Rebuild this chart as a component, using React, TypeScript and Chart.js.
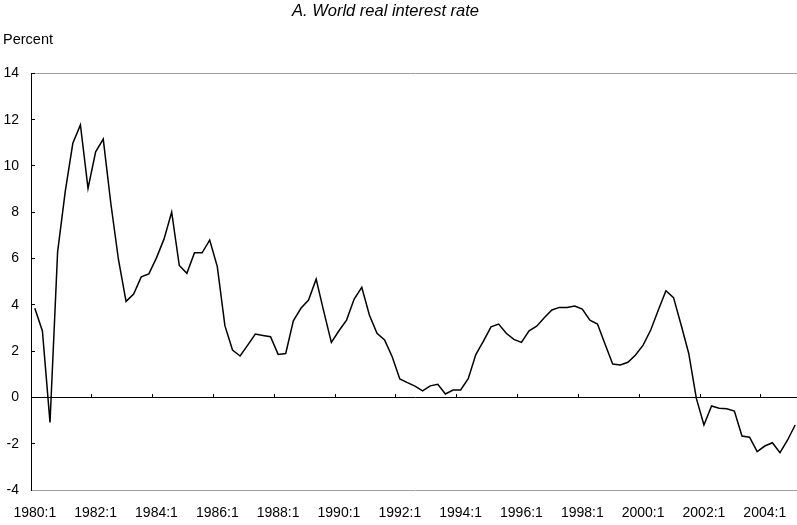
import React, { useEffect, useRef } from 'react';
import { Chart, registerables } from 'chart.js';

Chart.register(...registerables);

// ---- data ----
const TITLE = 'A. World real interest rate';
const Y_UNIT = 'Percent';

const START_YEAR = 1980;
const QUARTER_COUNT = 101; // 1980:1 .. 2005:1
const quarters: string[] = [];
for (let i = 0; i < QUARTER_COUNT; i++) {
  quarters.push(`${START_YEAR + Math.floor(i / 4)}:${(i % 4) + 1}`);
}
const LABEL_EVERY = 8; // show every 2 years

const realRate: number[] = [
  3.85, 2.87, -1.08, 6.29, 8.89, 10.98, 11.77, 9.03, 10.61, 11.16,
  8.38, 5.96, 4.15, 4.47, 5.21, 5.34, 6.03, 6.85, 8.01, 5.7,
  5.36, 6.25, 6.25, 6.8, 5.65, 3.1, 2.05, 1.79, 2.26, 2.74,
  2.68, 2.62, 1.86, 1.9, 3.31, 3.85, 4.21, 5.11, 3.72, 2.38,
  2.88, 3.34, 4.25, 4.76, 3.56, 2.77, 2.48, 1.76, 0.8, 0.64,
  0.49, 0.28, 0.5, 0.57, 0.15, 0.32, 0.32, 0.81, 1.85, 2.43,
  3.05, 3.17, 2.77, 2.51, 2.38, 2.88, 3.08, 3.44, 3.78, 3.89,
  3.89, 3.95, 3.82, 3.34, 3.17, 2.3, 1.44, 1.4, 1.52, 1.83,
  2.26, 2.91, 3.78, 4.61, 4.31, 3.13, 1.9, -0.04, -1.19, -0.37,
  -0.47, -0.49, -0.59, -1.67, -1.72, -2.34, -2.1, -1.96, -2.39, -1.84,
  -1.19,
];

const Y_MIN = -4;
const Y_MAX = 14;
const Y_STEP = 2;

const FONT = "'Liberation Sans', Arial, Helvetica, sans-serif";

// Title drawn centred over the original's position
const titlePlugin = {
  id: 'centredTitle',
  afterDraw(chart: any) {
    const ctx = chart.ctx;
    ctx.save();
    ctx.font = `italic 16.5px ${FONT}`;
    ctx.fillStyle = '#000';
    ctx.textAlign = 'center';
    ctx.textBaseline = 'middle';
    ctx.fillText(TITLE, 385.5, 11.5);
    ctx.restore();
  },
};

export default function App() {
  const ref = useRef<HTMLCanvasElement | null>(null);

  useEffect(() => {
    if (!ref.current) return;
    const chart = new Chart(ref.current, {
      type: 'line',
      data: {
        labels: quarters,
        datasets: [
          {
            data: realRate,
            borderColor: '#000',
            borderWidth: 1.5,
            pointRadius: 0,
            tension: 0,
            fill: false,
          },
        ],
      },
      plugins: [titlePlugin],
      options: {
        animation: false,
        responsive: false,
        layout: { padding: { left: 3, right: 0, top: 0, bottom: 3 } },
        plugins: {
          legend: { display: false },
          tooltip: { enabled: false },
          title: { display: false },
          subtitle: {
            display: true,
            text: Y_UNIT,
            align: 'start',
            color: '#000',
            font: { family: FONT, size: 14.5, weight: 'normal' },
            padding: { top: 31, bottom: 25 },
          },
        },
        scales: {
          x: {
            type: 'category',
            position: 'bottom',
            offset: true,
            grid: { display: false, drawTicks: false },
            border: { display: true, color: '#a0a0a0', width: 1 },
            ticks: {
              autoSkip: false,
              maxRotation: 0,
              minRotation: 0,
              padding: 15,
              color: '#000',
              font: { family: FONT, size: 14 },
              callback: (_v: any, i: number) => (i % LABEL_EVERY === 0 ? quarters[i] : ''),
            },
            afterFit: (scale: any) => {
              scale.height = 32;
              scale.paddingLeft = 0;
              scale.paddingRight = 0;
            },
          },
          x2: {
            type: 'category',
            axis: 'x',
            position: { y: 0 },
            offset: true,
            grid: {
              display: true,
              offset: true,
              drawOnChartArea: false,
              drawTicks: true,
              tickLength: -4,
              color: 'transparent',
              tickColor: (ctx: any) => (ctx.index % LABEL_EVERY === 0 ? '#000' : 'transparent'),
              tickWidth: 1,
            },
            border: { display: true, color: '#000', width: 1 },
            ticks: { display: false, autoSkip: false, maxRotation: 0, minRotation: 0 },
            afterFit: (scale: any) => {
              scale.paddingLeft = 0;
              scale.paddingRight = 0;
            },
          },
          y: {
            type: 'linear',
            min: Y_MIN,
            max: Y_MAX,
            ticks: {
              stepSize: Y_STEP,
              padding: 16,
              color: '#000',
              font: { family: FONT, size: 14 },
            },
            grid: {
              display: true,
              drawTicks: true,
              tickLength: -4,
              tickColor: '#000',
              tickWidth: 1,
              color: (ctx: any) => (ctx.tick && ctx.tick.value === Y_MAX ? '#a0a0a0' : 'transparent'),
              lineWidth: 1,
            },
            border: { display: true, color: '#000', width: 1 },
            afterFit: (scale: any) => {
              scale.width = 28;
            },
          },
        },
      },
    });
    return () => chart.destroy();
  }, []);

  return (
    <div
      style={{
        position: 'fixed',
        left: 0,
        top: 0,
        width: 797,
        height: 525,
        overflow: 'hidden',
        background: '#fff',
      }}
    >
      <canvas ref={ref} width={799} height={525} style={{ display: 'block' }} />
    </div>
  );
}
